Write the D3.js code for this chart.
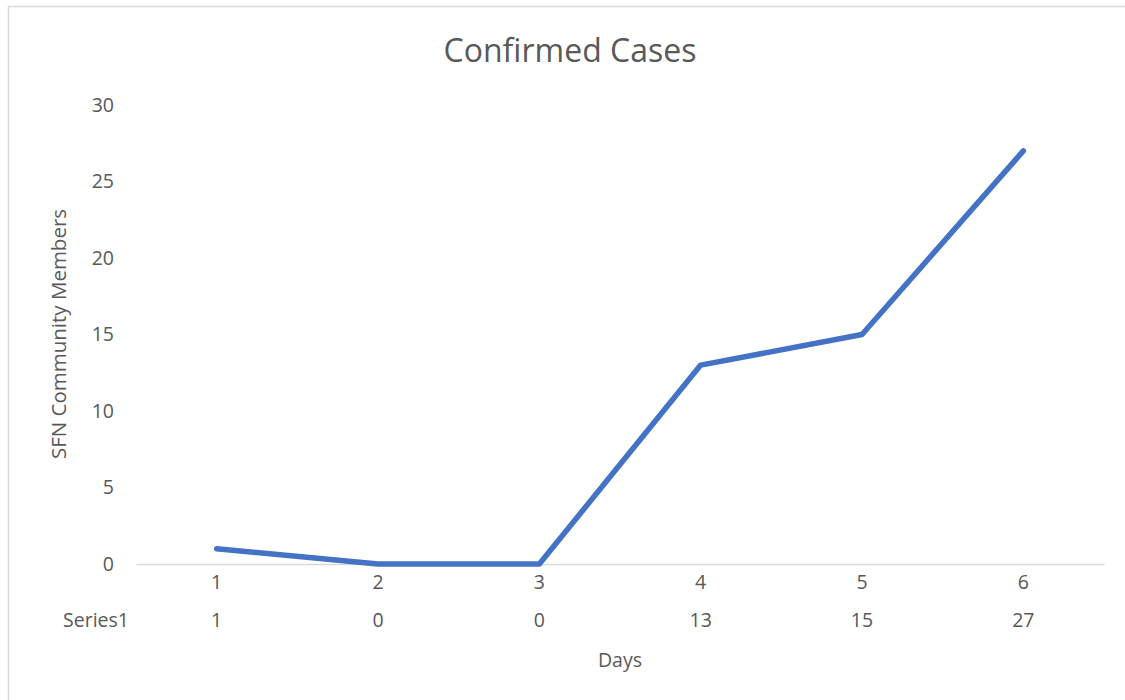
<!DOCTYPE html>
<html><head><meta charset="utf-8">
<script src="https://cdn.jsdelivr.net/npm/d3@7"></script>
<style>body{margin:0;background:#fff;}svg{display:block;}</style>
</head><body>
<svg id="c" width="1125" height="700"></svg>
<script>
const categories = ["1","2","3","4","5","6"];
const values = [1,0,0,13,15,27];
const seriesName = "Series1";
const yTicks = [0,5,10,15,20,25,30];

const svg = d3.select("#c");
const font = "'Open Sans', sans-serif";
const txt = "#595959";
const fs = 19.5;
svg.append("rect").attr("x",8.5).attr("y",6.5).attr("width",1130).attr("height",700)
  .attr("fill","#fff").attr("stroke","#d9d9d9").attr("stroke-width",1.5);

const x = d3.scaleBand().domain(categories).range([136,1104]);
const y = d3.scaleLinear().domain([0,30]).range([564,105]);

svg.append("text").attr("x",570).attr("y",62).attr("text-anchor","middle")
  .attr("font-family",font).attr("font-size",32).attr("fill",txt).text("Confirmed Cases");

const ya = svg.append("g").attr("transform","translate(114,0)")
  .call(d3.axisLeft(y).tickValues(yTicks).tickSize(0).tickPadding(0));
ya.select(".domain").remove();
ya.selectAll("text").attr("font-family",font).attr("font-size",fs).attr("fill",txt);

const xa = svg.append("g").attr("transform","translate(0,564)")
  .call(d3.axisBottom(x).tickSize(0).tickPadding(11));
xa.select(".domain").attr("stroke","#d9d9d9").attr("stroke-width",1.5);
xa.selectAll("text").attr("font-family",font).attr("font-size",fs).attr("fill",txt);

// data table row
svg.append("text").attr("x",129).attr("y",620).attr("dy","0.35em").attr("text-anchor","end")
  .attr("font-family",font).attr("font-size",fs).attr("fill",txt).text(seriesName);
svg.selectAll(".dt").data(values).enter().append("text")
  .attr("x",(d,i)=>x(categories[i])+x.bandwidth()/2).attr("y",620).attr("dy","0.35em")
  .attr("text-anchor","middle").attr("font-family",font).attr("font-size",fs).attr("fill",txt)
  .text(d=>d);

svg.append("text").attr("x",620).attr("y",660).attr("dy","0.35em").attr("text-anchor","middle")
  .attr("font-family",font).attr("font-size",fs).attr("fill",txt).text("Days");
svg.append("text").attr("transform","translate(59,334) rotate(-90)").attr("dy","0.35em")
  .attr("text-anchor","middle").attr("font-family",font).attr("font-size",20.5).attr("fill",txt)
  .text("SFN Community Members");

const line = d3.line().x((d,i)=>x(categories[i])+x.bandwidth()/2).y(d=>y(d));
svg.append("path").datum(values).attr("d",line).attr("fill","none")
  .attr("stroke","#4472C4").attr("stroke-width",5.5).attr("stroke-linejoin","round").attr("stroke-linecap","round");
</script>
</body></html>
